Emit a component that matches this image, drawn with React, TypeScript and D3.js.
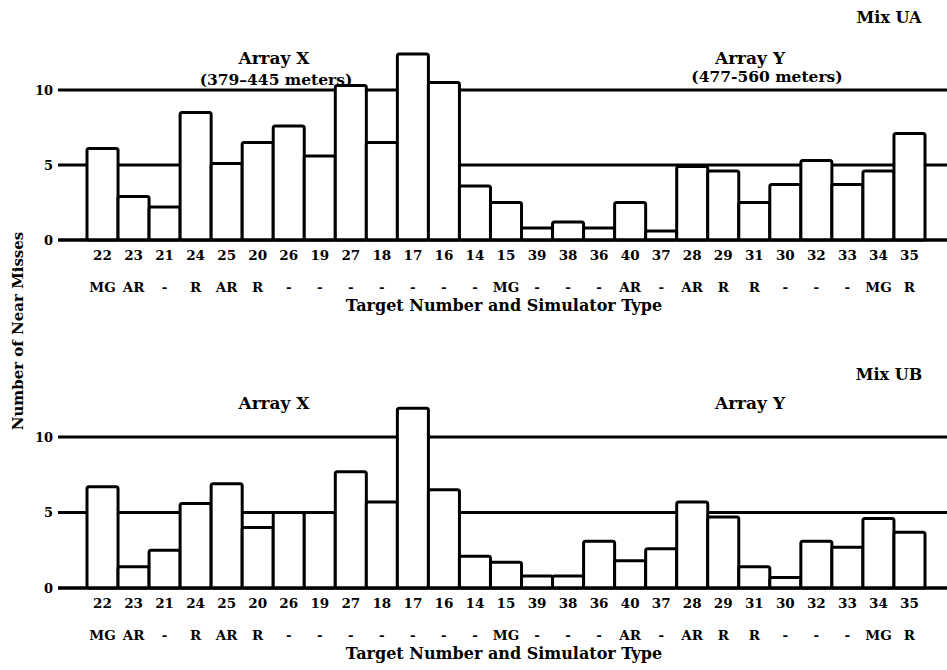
import React from "react";
import * as d3 from "d3";

const targets = ["22","23","21","24","25","20","26","19","27","18","17","16","14","15","39","38","36","40","37","28","29","31","30","32","33","34","35"];
const types = ["MG","AR","-","R","AR","R","-","-","-","-","-","-","-","MG","-","-","-","AR","-","AR","R","R","-","-","-","MG","R"];
const mixUA = [6.1,2.9,2.2,8.5,5.1,6.5,7.6,5.6,10.3,6.5,12.4,10.5,3.6,2.5,0.8,1.2,0.8,2.5,0.6,4.9,4.6,2.5,3.7,5.3,3.7,4.6,7.1];
const mixUB = [6.7,1.4,2.5,5.6,6.9,4.0,5.0,5.0,7.7,5.7,11.9,6.5,2.1,1.7,0.8,0.8,3.1,1.8,2.6,5.7,4.7,1.4,0.7,3.1,2.7,4.6,3.7];
const yTicks = [0, 5, 10];

const FONT = "DejaVu Serif";

type PanelProps = {
  values: number[];
  y0: number;
  y10: number;
  mixLabel: string;
  mixY: number;
  arrayY: number;
  showMeters: boolean;
};

function Panel({ values, y0, y10, mixLabel, mixY, arrayY, showMeters }: PanelProps) {
  const x = d3.scaleBand<string>().domain(targets).range([87, 925]).paddingInner(0).paddingOuter(0);
  const y = d3.scaleLinear().domain([0, 10]).range([y0, y10]);
  const bw = x.bandwidth();
  return (
    <g>
      {yTicks.map((t) => (
        <g key={t}>
          <line x1={58} x2={947} y1={y(t)} y2={y(t)} stroke="#000" strokeWidth={3} />
          <text x={53} y={y(t)} dy="0.35em" textAnchor="end" fontFamily={FONT} fontWeight="bold" fontSize={13}>{t}</text>
        </g>
      ))}
      {showMeters && (
        <>
          <text x={276} y={arrayY + 21} textAnchor="middle" fontFamily={FONT} fontWeight="bold" fontSize={15.5}>(379–445 meters)</text>
          <text x={767} y={arrayY + 18} textAnchor="middle" fontFamily={FONT} fontWeight="bold" fontSize={15.5}>(477-560 meters)</text>
        </>
      )}
      {values.map((v, i) => (
        <rect key={targets[i]} x={x(targets[i])!} y={y(v)} width={bw} height={y(0) - y(v)} rx={2}
          fill="#fff" stroke="#000" strokeWidth={3} />
      ))}
      <line x1={58} x2={947} y1={y(0)} y2={y(0)} stroke="#000" strokeWidth={3} />
      {targets.map((t) => (
        <text key={"n" + t} x={x(t)! + bw / 2} y={y0 + 20} textAnchor="middle" fontFamily={FONT} fontWeight="bold" fontSize={13.5}>{t}</text>
      ))}
      {types.map((t, i) => (
        <text key={"t" + i} x={x(targets[i])! + bw / 2} y={y0 + 52} textAnchor="middle" fontFamily={FONT} fontWeight="bold" fontSize={13.5}>{t}</text>
      ))}
      <text x={504} y={y0 + 71} textAnchor="middle" fontFamily={FONT} fontWeight="bold" fontSize={16}>Target Number and Simulator Type</text>
      <text x={889} y={mixY} textAnchor="middle" fontFamily={FONT} fontWeight="bold" fontSize={16}>{mixLabel}</text>
      <text x={274} y={arrayY} textAnchor="middle" fontFamily={FONT} fontWeight="bold" fontSize={17}>Array X</text>
      <text x={750} y={arrayY} textAnchor="middle" fontFamily={FONT} fontWeight="bold" fontSize={17}>Array Y</text>
    </g>
  );
}

export default function App() {
  return (
    <svg width={947} height={670} style={{ position: "absolute", left: 0, top: 0, background: "#fff" }}>
      <rect x={0} y={0} width={947} height={670} fill="#fff" />
      <Panel values={mixUA} y0={240} y10={90} mixLabel="Mix UA" mixY={23} arrayY={64} showMeters={true} />
      <Panel values={mixUB} y0={588} y10={437} mixLabel="Mix UB" mixY={380} arrayY={409} showMeters={false} />
      <text transform="translate(23,331) rotate(-90)" textAnchor="middle" fontFamily={FONT} fontWeight="bold" fontSize={15}>Number of Near Misses</text>
    </svg>
  );
}
